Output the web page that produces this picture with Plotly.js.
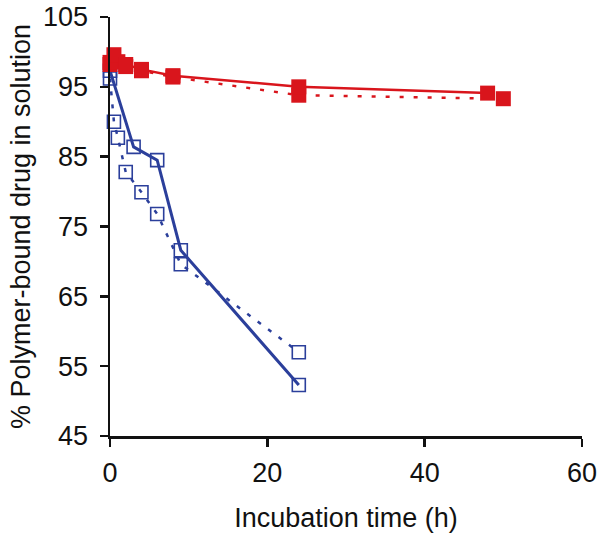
<!DOCTYPE html>
<html>
<head>
<meta charset="utf-8">
<script src="https://cdn.plot.ly/plotly-3.0.1.min.js"></script>
<style>html,body{margin:0;padding:0;background:#fff}#chart{width:601px;height:536px}</style>
</head>
<body>
<div id="chart"></div>
<script>
// Blue series (open squares)
const blueSolidX = [0, 3, 6, 9, 24];
const blueSolidY = [97.3, 86.4, 84.5, 71.6, 52.3];
const blueDotX = [0, 0.5, 1, 2, 4, 6, 9, 24];
const blueDotY = [96.2, 90.0, 87.7, 82.8, 79.9, 76.8, 69.6, 57.0];
// Red series (filled squares)
const redSolidX = [0, 0.5, 2, 4, 8, 24, 48];
const redSolidY = [98.5, 99.6, 98.2, 97.5, 96.6, 95.0, 94.1];
const redDotX = [0, 1, 2, 4, 8, 24, 50];
const redDotY = [98.2, 98.6, 97.9, 97.3, 96.4, 93.8, 93.3];

const xTicks = [0, 20, 40, 60];
const yTicks = [45, 55, 65, 75, 85, 95, 105];

const RED = '#d9151c';
const BLUE = '#2b3f9b';

const traces = [
  {x: blueDotX, y: blueDotY, mode: 'lines+markers', cliponaxis: false,
   line: {color: BLUE, width: 2.5, dash: '4px,9px'},
   marker: {symbol: 'square-open', size: 13, color: BLUE, line: {width: 1.6, color: BLUE}}},
  {x: blueSolidX, y: blueSolidY, mode: 'lines+markers', cliponaxis: false,
   line: {color: BLUE, width: 3},
   marker: {symbol: 'square-open', size: 13, color: BLUE, line: {width: 1.6, color: BLUE}}},
  {x: redDotX, y: redDotY, mode: 'lines+markers', cliponaxis: false,
   line: {color: RED, width: 2.5, dash: '4px,10px'},
   marker: {symbol: 'square', size: 15, color: RED}},
  {x: redSolidX, y: redSolidY, mode: 'lines+markers', cliponaxis: false,
   line: {color: RED, width: 2.5},
   marker: {symbol: 'square', size: 15, color: RED}}
];

const FF = 'Liberation Sans, Arial, sans-serif';
const FS = 27;

const layout = {
  width: 601, height: 536,
  margin: {l: 110, r: 19, t: 17, b: 100},
  showlegend: false,
  paper_bgcolor: '#fff', plot_bgcolor: '#fff',
  font: {family: FF, size: FS, color: '#111'},
  xaxis: {
    range: [0, 60], tickvals: xTicks, ticktext: xTicks.map(String),
    showline: true, linecolor: '#111', linewidth: 2.5,
    ticks: 'outside', ticklen: 8, tickwidth: 2.5, tickcolor: '#111',
    ticklabelstandoff: 3,
    showgrid: false, zeroline: false,
    tickfont: {family: FF, size: FS, color: '#111'},
    title: {text: 'Incubation time (h)', font: {family: FF, size: FS, color: '#111'}, standoff: 21}
  },
  yaxis: {
    range: [45, 105], tickvals: yTicks, ticktext: yTicks.map(String),
    showline: true, linecolor: '#111', linewidth: 2.5,
    ticks: 'outside', ticklen: 8, tickwidth: 2.5, tickcolor: '#111',
    ticklabelstandoff: 6,
    showgrid: false, zeroline: false,
    tickfont: {family: FF, size: FS, color: '#111'},
    title: {text: '% Polymer-bound drug in solution', font: {family: FF, size: FS, color: '#111'}, standoff: 5}
  }
};

Plotly.newPlot('chart', traces, layout, {displayModeBar: false, staticPlot: true});
</script>
</body>
</html>
